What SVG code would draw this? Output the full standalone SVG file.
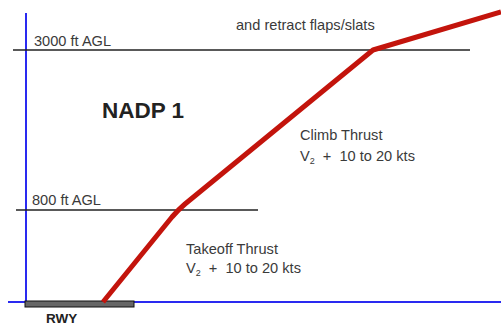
<svg xmlns="http://www.w3.org/2000/svg" width="501" height="325" viewBox="0 0 501 325">
<style>
.t{font-family:"Liberation Sans",Arial,sans-serif;font-size:14.6px;fill:#3a3a3a}
.alt{stroke:#222;stroke-width:1.5}
.axis{stroke:#2a2af0;stroke-width:2}
</style>
<rect width="501" height="325" fill="#fff"/>
<g id="axes">
<line class="axis" x1="26" y1="13" x2="26" y2="303"/>
<line class="axis" x1="8" y1="302" x2="501" y2="302"/>
</g>
<g id="runway">
<rect x="25" y="301" width="109" height="6" fill="#666" stroke="#111" stroke-width="1"/>
<text x="46" y="323" style="font-family:'Liberation Sans',Arial,sans-serif;font-size:13.5px;font-weight:bold;fill:#222">RWY</text>
</g>
<g id="alt3000">
<line class="alt" x1="13" y1="50" x2="470" y2="50"/>
<text class="t" x="34" y="46">3000 ft AGL</text>
</g>
<g id="alt800">
<line class="alt" x1="16" y1="210" x2="258" y2="210"/>
<text class="t" x="32" y="205">800 ft AGL</text>
</g>
<g id="title">
<text x="102" y="118" style="font-family:'Liberation Sans',Arial,sans-serif;font-size:22.5px;font-weight:bold;fill:#222">NADP 1</text>
</g>
<g id="climb">
<text class="t" x="300" y="140">Climb Thrust</text>
<text class="t" x="300" y="161" xml:space="preserve">V<tspan font-size="9" dy="3">2</tspan><tspan dy="-3">  +  10 to 20 kts</tspan></text>
</g>
<g id="takeoff">
<text class="t" x="186" y="254">Takeoff Thrust</text>
<text class="t" x="186" y="273" xml:space="preserve">V<tspan font-size="9" dy="3">2</tspan><tspan dy="-3">  +  10 to 20 kts</tspan></text>
</g>
<g id="retract">
<text class="t" x="236" y="30">and retract flaps/slats</text>
</g>
<g id="connectors">
<path d="M103,302 L172,217 Q178,210 185,204 L373,50 L501,12" fill="none" stroke="#c3140c" stroke-width="5" stroke-linejoin="round"/>
</g>
</svg>
